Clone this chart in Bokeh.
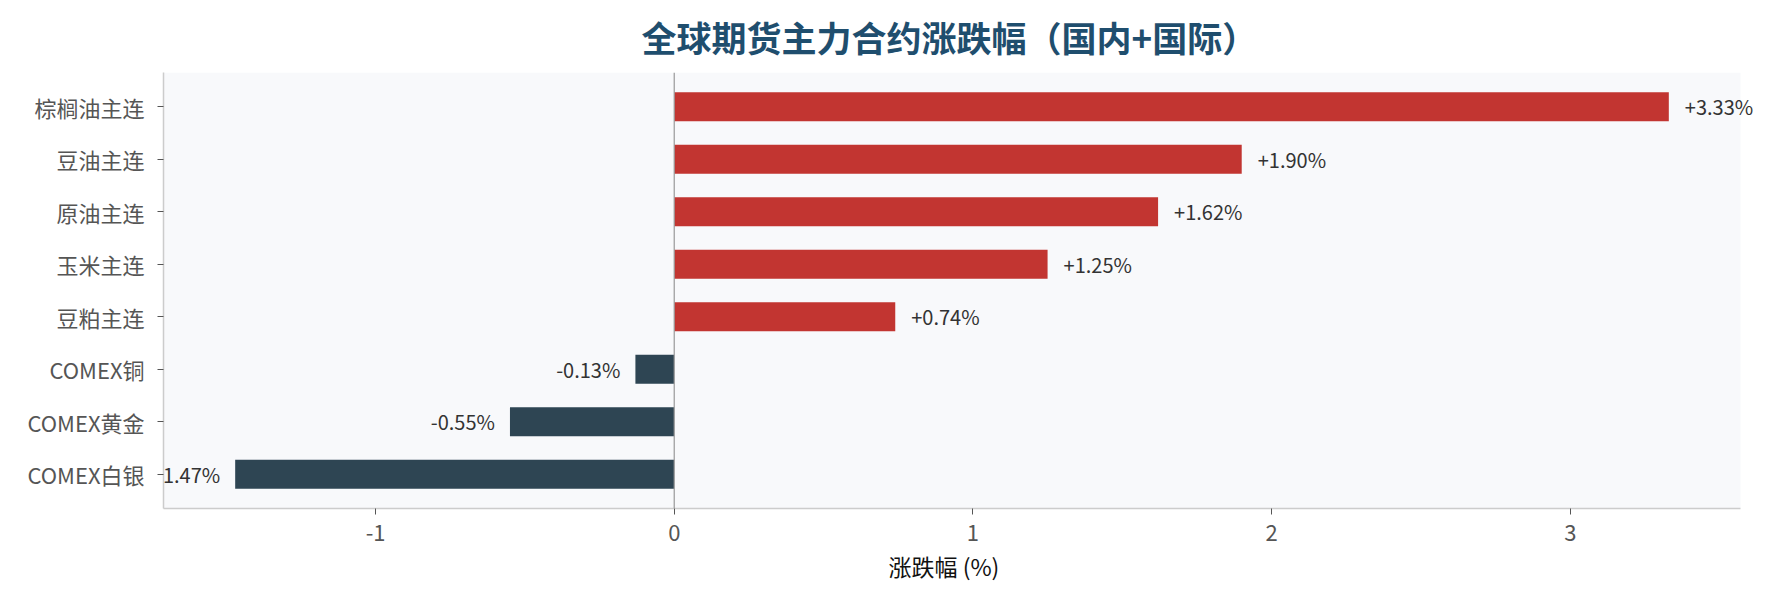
from bokeh.plotting import figure
from bokeh.models import ColumnDataSource, FixedTicker, Range1d, Span, LabelSet, BoxAnnotation, Title
from bokeh.embed import file_html
from bokeh.resources import INLINE
from bokeh.core.properties import value

categories = ["COMEX白银", "COMEX黄金", "COMEX铜", "豆粕主连", "玉米主连", "原油主连", "豆油主连", "棕榈油主连"]
changes = [-1.47, -0.55, -0.13, 0.74, 1.25, 1.62, 1.90, 3.33]
x_ticks = [-1, 0, 1, 2, 3]

FONT = "Noto Sans CJK SC"
RED = "#c23531"
DARK = "#2e4553"
BG = "#f8f9fb"

ypos = list(range(len(categories)))
colors = [RED if v >= 0 else DARK for v in changes]
labels = [("+%.2f%%" % v) if v >= 0 else ("%.2f%%" % v) for v in changes]
pos = [v >= 0 for v in changes]

src = ColumnDataSource(dict(y=ypos, v=changes, c=colors, lab=labels))
src_pos = ColumnDataSource(dict(y=[y for y, p in zip(ypos, pos) if p],
                                v=[v for v, p in zip(changes, pos) if p],
                                lab=[l for l, p in zip(labels, pos) if p]))
src_neg = ColumnDataSource(dict(y=[y for y, p in zip(ypos, pos) if not p],
                                v=[v for v, p in zip(changes, pos) if not p],
                                lab=[l for l, p in zip(labels, pos) if not p]))

bar_h = 0.55
vmin, vmax = min(changes), max(changes)
span = vmax - vmin
x_lo, x_hi = vmin - 0.05 * span, vmax + 0.05 * span
# axes area is 1577 px wide (163..1740); the drawing frame extends 20 px
# further right so the outermost value label is not clipped
LEFT, AX_W, EXTRA_R = 163, 1577, 20
px = (x_hi - x_lo) / AX_W
ymin, ymax = -bar_h / 2, len(categories) - 1 + bar_h / 2
yspan = ymax - ymin

p = figure(width=LEFT + AX_W + EXTRA_R, height=596, output_backend="svg", toolbar_location=None,
           x_range=Range1d(x_lo, x_hi + EXTRA_R * px),
           y_range=Range1d(ymin - 0.05 * yspan, ymax + 0.05 * yspan),
           min_border_left=LEFT, min_border_right=0,
           min_border_top=72, min_border_bottom=88)

p.title.text = "全球期货主力合约涨跌幅（国内+国际）"
p.title.align = "left"
p.title.offset = 641 - LEFT
p.title.vertical_align = "top"
p.title.text_font = FONT
p.title.text_font_size = "35px"
p.title.text_font_style = "bold"
p.title.text_color = "#1f4e6e"
p.title.standoff = 17

p.background_fill_color = "white"
p.border_fill_color = "white"
p.outline_line_color = None
p.grid.visible = False

p.add_layout(BoxAnnotation(left=x_lo, right=x_hi, fill_color=BG, fill_alpha=1.0,
                           line_color=None, level="underlay"))

p.hbar(y="y", right="v", left=0, height=bar_h, fill_color="c", line_color=None, source=src)
p.add_layout(Span(location=0, dimension="height", line_color="#999999", line_width=1.2))

p.add_layout(LabelSet(x="v", y="y", text="lab", source=src_pos, x_offset=16, text_align="left",
                      text_baseline="middle", text_font=value(FONT), text_font_size="20px",
                      text_color="#333333"))
p.add_layout(LabelSet(x="v", y="y", text="lab", source=src_neg, x_offset=-15, text_align="right",
                      text_baseline="middle", text_font=value(FONT), text_font_size="20px",
                      text_color="#333333"))

xa = p.xaxis[0]
xa.bounds = (x_lo, x_hi)
xa.ticker = FixedTicker(ticks=x_ticks)
xa.major_label_overrides = {t: str(t) for t in x_ticks}
xa.major_label_text_font = FONT
xa.major_label_text_font_size = "22px"
xa.major_label_text_color = "#555555"
xa.major_label_standoff = 10

# x-axis title, centred under the axes area (not the slightly wider frame)
p.add_layout(Title(text="涨跌幅 (%)", align="left", offset=888 - LEFT, standoff=6,
                   text_font=FONT, text_font_size="23px", text_font_style="normal",
                   text_color="#111111"), "below")

ya = p.yaxis[0]
ya.ticker = FixedTicker(ticks=ypos)
ya.major_label_overrides = {i: c for i, c in enumerate(categories)}
ya.major_label_text_font = FONT
ya.major_label_text_font_size = "22px"
ya.major_label_text_color = "#555555"
ya.major_label_standoff = 13

for ax in (xa, ya):
    ax.axis_line_color = "#cccccc"
    ax.axis_line_width = 1.5
    ax.major_tick_line_color = "#555555"
    ax.major_tick_in = 0
    ax.major_tick_out = 6
    ax.minor_tick_line_color = None

open("out.html", "w").write(file_html(p, INLINE))
